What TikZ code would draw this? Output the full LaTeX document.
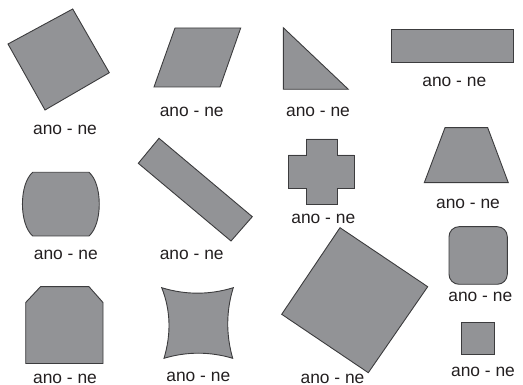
\documentclass[tikz,border=0pt]{standalone}
\usepackage{fontspec}
\setmainfont{Liberation Sans}
\definecolor{shapefill}{HTML}{929396}
\definecolor{shapeline}{HTML}{3C3C3E}
\definecolor{labeltext}{HTML}{231F20}
\tikzset{
  shp/.style={fill=shapefill, draw=shapeline, line width=0.9pt, line join=miter},
  lbl/.style={font=\fontsize{17.4}{20}\selectfont, text=labeltext, inner sep=0pt}
}
\begin{document}
\begin{tikzpicture}[x=1pt,y=-1pt]
\useasboundingbox (0,0) rectangle (523,385);
% rotated square 1
\draw[shp] (8,44) -- (72.7,9) -- (109.3,72.7) -- (45,110) -- cycle;
\node[lbl] (l1) at (65,130) {ano - ne};
% parallelogram
\draw[shp] (154,87) -- (175,28) -- (240.7,28) -- (220,87) -- cycle;
\node[lbl] (l2) at (191.7,111.5) {ano - ne};
% triangle
\draw[shp] (283.3,27.7) -- (283.3,89.3) -- (348.3,89.3) -- cycle;
\node[lbl] (l3) at (318,111.5) {ano - ne};
% long rectangle
\draw[shp] (391,29.3) rectangle (513.3,62.3);
\node[lbl] (l4) at (454.3,81.5) {ano - ne};
% barrel
\draw[shp] (32.7,172.3) -- (89,172.3) .. controls (102.7,184) and (102.7,224) .. (89,236)
  -- (32.7,236) .. controls (19,224) and (19,184) .. (32.7,172.3) -- cycle;
\node[lbl] (l5) at (65.8,255) {ano - ne};
% rotated rectangle
\draw[shp] (159,138.3) -- (252.3,216.7) -- (231,241) -- (138.3,163.3) -- cycle;
\node[lbl] (l6) at (191.7,255) {ano - ne};
% cross
\draw[shp] (306,139) -- (337.7,139) -- (337.7,155) -- (354,155) -- (354,188.3) -- (337.7,188.3)
  -- (337.7,204) -- (306,204) -- (306,188.3) -- (288.3,188.3) -- (288.3,155) -- (306,155) -- cycle;
\node[lbl] (l7) at (323.3,219) {ano - ne};
% trapezoid
\draw[shp] (445,127.7) -- (487.7,127.7) -- (508.3,182.7) -- (424.3,182.7) -- cycle;
\node[lbl] (l8) at (468,204) {ano - ne};
% chamfered box
\draw[shp] (40.5,286.7) -- (89,286.7) -- (103,302.5) -- (103,363.5) -- (25.7,363.5) -- (25.7,302.5) -- cycle;
\node[lbl] (l9) at (65,378.5) {ano - ne};
% concave square
\draw[shp] (161.7,287.7) .. controls (185.6,295) and (209.4,295) .. (233.3,287.7)
  .. controls (226,311) and (226,335) .. (232.7,358.3)
  .. controls (209.9,351.5) and (186.8,351.5) .. (164,358.3)
  .. controls (171,335) and (171,311) .. (161.7,287.7) -- cycle;
\node[lbl] (l10) at (198.3,376.5) {ano - ne};
% big rotated square
\draw[shp] (340,227.7) -- (427.7,286.7) -- (368.3,372.7) -- (281.7,314.3) -- cycle;
\node[lbl] (l11) at (332.5,378.5) {ano - ne};
% rounded square
\draw[shp, rounded corners=10pt] (449,226.7) rectangle (507.3,284.3);
\node[lbl] (l12) at (480.3,296.5) {ano - ne};
% small square
\draw[shp] (461.7,322.7) rectangle (494.3,354.3);
\node[lbl] (l13) at (483,371.5) {ano - ne};
\end{tikzpicture}
\end{document}
